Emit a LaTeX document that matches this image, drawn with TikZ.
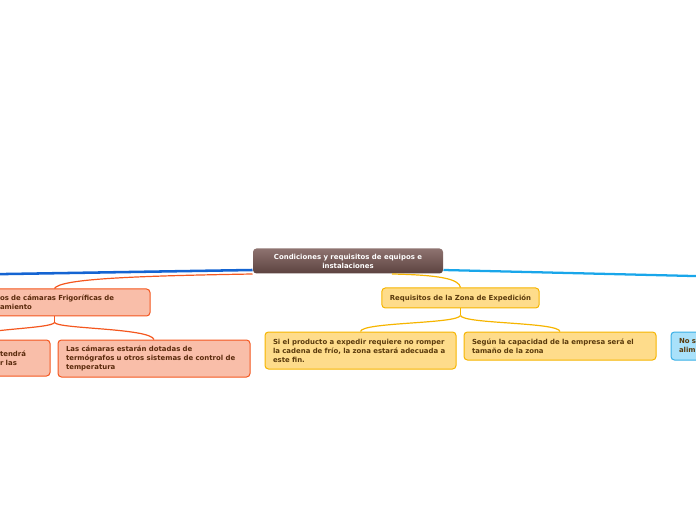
\documentclass[tikz,border=0pt]{standalone}
\usepackage{fontspec}
\setmainfont{DejaVu Sans}
\usetikzlibrary{calc}

\definecolor{rootTop}{HTML}{8E7370}
\definecolor{rootBot}{HTML}{5C423F}
\definecolor{orFill}{HTML}{F9BEA9}
\definecolor{orLine}{HTML}{F4571F}
\definecolor{orText}{HTML}{5A2A0C}
\definecolor{yeFill}{HTML}{FEDC8B}
\definecolor{yeLine}{HTML}{F6B500}
\definecolor{yeText}{HTML}{5A3A0C}
\definecolor{blFill}{HTML}{A9E1FA}
\definecolor{blLine}{HTML}{3AAFE6}
\definecolor{darkBlue}{HTML}{1464D2}
\definecolor{lightBlue}{HTML}{19A6EA}

\begin{document}
\begin{tikzpicture}[x=0.75pt,y=-0.75pt,
    box/.style={rectangle,rounded corners=2.6pt,line width=0.75pt,inner xsep=6pt,inner ysep=0pt,
      align=left,font=\fontsize{5.2}{6.75}\selectfont\bfseries},
    rootbox/.style={box,draw=none,top color=rootTop,bottom color=rootBot,text=white,align=center},
    orangebox/.style={box,fill=orFill,draw=orLine,text=orText},
    yellowbox/.style={box,fill=yeFill,draw=yeLine,text=yeText},
    bluebox/.style={box,fill=blFill,draw=blLine,text=yeText},
    orlink/.style={orLine,line width=0.9pt},
    yelink/.style={yeLine,line width=0.9pt}]
  \useasboundingbox (0,0) rectangle (696,520);
  \clip (0,0) rectangle (696,520);

  % main branches
  \coordinate (westEnd) at (-5,274.2);
  \coordinate (eastEnd) at (701,276.2);

  \node[rootbox,minimum width=142.5pt,minimum height=18.75pt] (root) at (348,261)
    {Condiciones y requisitos de equipos e\\instalaciones};

  \draw[darkBlue,line width=1.9pt] ([yshift=3pt]root.south west) -- (westEnd);
  \draw[lightBlue,line width=1.7pt] ([yshift=3pt]root.south east) -- (eastEnd);

  % left: orange
  \node[orangebox,text width=106.5pt,minimum height=20.25pt] (cam) at (71,302.5)
    {os de cámaras Frigoríficas de\\amiento};
  \node[orangebox,text width=31.5pt,minimum height=27pt] (camA) at (21,358)
    {tendrá\\r las};
  \node[orangebox,text width=132pt,minimum height=27.75pt] (camB) at (154,358.5)
    {Las cámaras estarán dotadas de\\termógrafos u otros sistemas de control de\\temperatura};

  \coordinate (camTop) at ($(cam.north west)+(63,0)$);
  \coordinate (camFork) at ($(camTop)+(0,34)$);
  \coordinate (camAtop) at ($(camA.north)+(-60,0)$);
  \draw[orlink] (root.south west) .. controls (130,276) and (60,279) .. (camTop);
  \draw[orlink] (camTop |- cam.south) -- (camFork);
  \draw[orlink] (camFork) .. controls (52,329) and (-30,329) .. (camAtop);
  \draw[orlink] (camFork) .. controls (58,329) and (150,328) .. (camB.north);

  % middle: yellow
  \node[yellowbox,minimum width=117.75pt,minimum height=15pt,align=center] (exp) at (460.5,298)
    {Requisitos de la Zona de Expedición};
  \node[yellowbox,text width=131.25pt,minimum height=27.75pt] (expA) at (360.5,350.5)
    {Si el producto a expedir requiere no romper\\la cadena de frío, la zona estará adecuada a\\este fin.};
  \node[yellowbox,text width=132pt,minimum height=21pt] (expB) at (560,346)
    {Según la capacidad de la empresa será el\\tamaño de la zona};

  \coordinate (expFork) at ($(exp.south)+(0,7)$);
  \draw[yelink] ($(root.south)+(44,0)$) .. controls (440,275) and (459,279) .. (exp.north);
  \draw[yelink] (exp.south) -- (expFork);
  \draw[yelink] (expFork) .. controls (457,324) and (362,322) .. (expA.north);
  \draw[yelink] (expFork) .. controls (463,324) and (558,322) .. (expB.north);

  % right: blue
  \node[bluebox,text width=132pt,minimum height=21pt] (alim) at (767,346)
    {No s\\alim};
\end{tikzpicture}
\end{document}
